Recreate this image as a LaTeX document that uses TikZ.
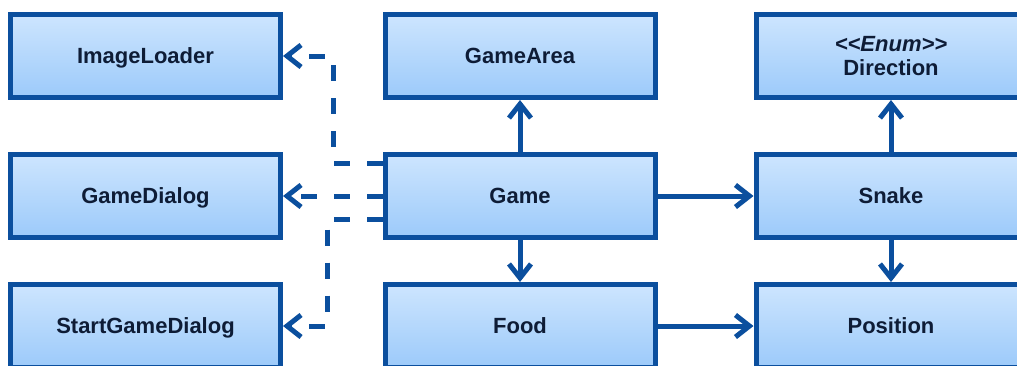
\documentclass[tikz,border=0pt]{standalone}
\usepackage{fontspec}
\newfontfamily\umlfont{Liberation Sans}
\usetikzlibrary{arrows.meta}
\definecolor{umlborder}{HTML}{0B4F9E}
\definecolor{umltop}{HTML}{CDE5FE}
\definecolor{umlbottom}{HTML}{9CCAFA}
\definecolor{umltext}{HTML}{0E1C36}
\tikzset{
  classbox/.style={draw=umlborder, line width=5pt, top color=umltop, bottom color=umlbottom,
    minimum width=270pt, minimum height=83pt, inner sep=0pt, align=center, text depth=0pt,
    text=umltext, font=\umlfont\bfseries\fontsize{22}{24}\selectfont},
  assoc/.style={draw=umlborder, line width=5pt,
    -{Straight Barb[length=14pt,width=22pt]}},
  dep/.style={assoc, dash pattern=on 16pt off 17pt}
}
\begin{document}
\begin{tikzpicture}[x=1pt,y=-1pt]
\useasboundingbox (0,0) rectangle (1017,365);
% classes
\node[classbox] (ImageLoader) at (145.5,56) {ImageLoader};
\node[classbox] (GameDialog) at (145.5,196) {GameDialog};
\node[classbox] (StartGameDialog) at (145.5,326) {StartGameDialog};
\node[classbox] (GameArea) at (520,56) {GameArea};
\node[classbox] (Game) at (520,196) {Game};
\node[classbox] (Food) at (520,326) {Food};
\node[classbox] (Direction) at (891,56) {\textit{<<Enum>>}\\Direction};
\node[classbox] (Snake) at (891,196) {Snake};
\node[classbox] (Position) at (891,326) {Position};
% associations
\draw[assoc] (Game) -- (GameArea);
\draw[assoc] (Game) -- (Food);
\draw[assoc] (Game) -- (Snake);
\draw[assoc] (Snake) -- (Direction);
\draw[assoc] (Snake) -- (Position);
\draw[assoc] (Food) -- (Position);
% dependencies
\draw[dep] ([yshift=33pt]Game.west) -| ([xshift=50pt]ImageLoader.east) -- (ImageLoader.east);
\draw[dep] (Game.west) -- (GameDialog.east);
\draw[dep] ([yshift=-23pt]Game.west) -| ([xshift=44pt]StartGameDialog.east) -- (StartGameDialog.east);
\end{tikzpicture}
\end{document}
